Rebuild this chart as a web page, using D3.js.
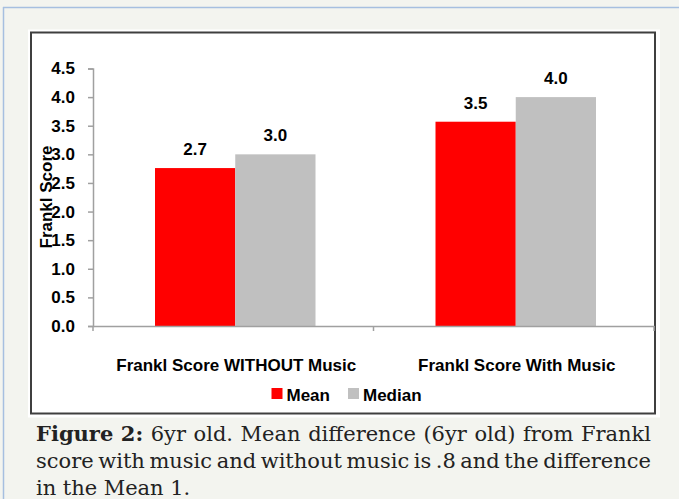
<!DOCTYPE html>
<html>
<head>
<meta charset="utf-8">
<script src="https://cdn.jsdelivr.net/npm/d3@7"></script>
<style>
  body { margin: 0; background: #f3f4ef; }
  svg { display: block; }
</style>
</head>
<body>
<svg id="chart" width="679" height="499"></svg>
<script>
const categories = ["Frankl Score WITHOUT Music", "Frankl Score With Music"];
const seriesNames = ["Mean", "Median"];
const meanValues = [2.76, 3.57];
const medianValues = [3.0, 4.0];
const meanLabels = ["2.7", "3.5"];
const medianLabels = ["3.0", "4.0"];
const yTicks = [0, 0.5, 1.0, 1.5, 2.0, 2.5, 3.0, 3.5, 4.0, 4.5];
const captionLines = [
  [{ t: "Figure", b: true }, { t: "2:", b: true }, "6yr", "old.", "Mean", "difference", "(6yr", "old)", "from", "Frankl"],
  ["score", "with", "music", "and", "without", "music", "is", ".8", "and", "the", "difference"],
  ["in", "the", "Mean", "1."]
];

(() => {
  const colors = { Mean: "#ff0000", Median: "#c0c0c0" };
  const chartFont = "'Liberation Sans', Arial, sans-serif";
  const fs = "17px";
  const svg = d3.select("#chart");

  // page frame
  svg.append("rect").attr("width", 679).attr("height", 499).attr("fill", "#f3f4ef");
  svg.append("line").attr("x1", 3).attr("x2", 679).attr("y1", 7.5).attr("y2", 7.5)
    .attr("stroke", "#a6bfe0").attr("stroke-width", 1.5);
  svg.append("line").attr("x1", 3.5).attr("x2", 3.5).attr("y1", 7).attr("y2", 499)
    .attr("stroke", "#a6bfe0").attr("stroke-width", 1.5);

  // chart box
  svg.append("rect").attr("x", 28).attr("y", 29.5).attr("width", 632).attr("height", 388).attr("fill", "#fff");
  svg.append("rect").attr("x", 31).attr("y", 32.5).attr("width", 624).attr("height", 381)
    .attr("fill", "none").attr("stroke", "#3f3f3f").attr("stroke-width", 2);

  const data = categories.map((c, i) => ({
    cat: c,
    vals: [
      { s: "Mean", v: meanValues[i], label: meanLabels[i] },
      { s: "Median", v: medianValues[i], label: medianLabels[i] }
    ]
  }));

  const y = d3.scaleLinear().domain([0, 4.5]).range([326, 68.5]);
  const x0 = d3.scaleBand().domain(categories).range([93, 654]);
  const x1 = d3.scaleBand().domain(seriesNames).range([62, x0.bandwidth() - 58]);

  // y axis
  const yAxis = svg.append("g")
    .attr("transform", "translate(93,0)")
    .call(d3.axisLeft(y).tickValues(yTicks).tickFormat(d3.format(".1f")).tickSize(5).tickPadding(13));
  yAxis.select(".domain").attr("stroke", "#a0a0a0").attr("stroke-width", 1.5);
  yAxis.selectAll(".tick line").attr("stroke", "#a0a0a0").attr("stroke-width", 1.5);
  yAxis.selectAll(".tick text")
    .attr("fill", "#000").style("font-family", chartFont).style("font-size", fs).style("font-weight", "bold");

  // bars
  const groups = svg.selectAll(".grp").data(data).join("g")
    .attr("class", "grp")
    .attr("transform", d => `translate(${x0(d.cat)},0)`);

  groups.selectAll("rect").data(d => d.vals).join("rect")
    .attr("x", d => x1(d.s))
    .attr("width", x1.bandwidth())
    .attr("y", d => y(d.v))
    .attr("height", d => y(0) - y(d.v))
    .attr("fill", d => colors[d.s]);

  groups.selectAll("text").data(d => d.vals).join("text")
    .attr("x", d => x1(d.s) + x1.bandwidth() / 2)
    .attr("y", d => y(d.v) - 13)
    .attr("text-anchor", "middle")
    .style("font-family", chartFont).style("font-size", fs).style("font-weight", "bold")
    .text(d => d.label);

  // x axis
  const xAxis = svg.append("g")
    .attr("transform", "translate(0,326)")
    .call(d3.axisBottom(x0).tickSize(0).tickFormat(""));
  xAxis.select(".domain").attr("stroke", "#a0a0a0").attr("stroke-width", 1.5);
  xAxis.selectAll(".tick").remove();
  const xTicks = x0.domain().map(c => x0(c)).concat([x0.range()[1]]);
  xAxis.selectAll(".xt").data(xTicks).join("line")
    .attr("x1", d => d).attr("x2", d => d).attr("y1", 0).attr("y2", 5)
    .attr("stroke", "#a0a0a0").attr("stroke-width", 1.5);

  svg.selectAll(".catlabel").data(categories).join("text")
    .attr("x", d => x0(d) + x0.bandwidth() / 2 + 3)
    .attr("y", 371)
    .attr("text-anchor", "middle")
    .style("font-family", chartFont).style("font-size", fs).style("font-weight", "bold")
    .text(d => d);

  // y title
  svg.append("text")
    .attr("transform", "translate(52,197) rotate(-90)")
    .attr("text-anchor", "middle")
    .style("font-family", chartFont).style("font-size", fs).style("font-weight", "bold")
    .text("Frankl Score");

  // legend
  const legendPos = [271.5, 348];
  const legend = svg.selectAll(".leg").data(seriesNames).join("g")
    .attr("transform", (d, i) => `translate(${legendPos[i]},388)`);
  legend.append("rect").attr("width", 11).attr("height", 11).attr("fill", d => colors[d]);
  legend.append("text").attr("x", 15).attr("y", 12.5)
    .style("font-family", chartFont).style("font-size", fs).style("font-weight", "bold")
    .text(d => d);

  // caption, justified like the page text
  const capLeft = 36, capRight = 651;
  const baselines = [441, 468, 495];
  captionLines.forEach((words, li) => {
    const nodes = words.map(w => {
      const word = typeof w === "string" ? { t: w, b: false } : w;
      return svg.append("text")
        .attr("y", baselines[li])
        .attr("fill", "#222")
        .style("font-family", "'DejaVu Serif', serif")
        .style("font-size", "21px")
        .style("font-weight", word.b ? "bold" : "normal")
        .text(word.t);
    });
    const widths = nodes.map(n => n.node().getComputedTextLength());
    const justify = li < captionLines.length - 1;
    const total = d3.sum(widths);
    const gap = justify ? (capRight - capLeft - total) / (nodes.length - 1) : 6.5;
    let cx = capLeft;
    nodes.forEach((n, i) => {
      n.attr("x", cx);
      cx += widths[i] + gap;
    });
  });
})();
</script>
</body>
</html>
